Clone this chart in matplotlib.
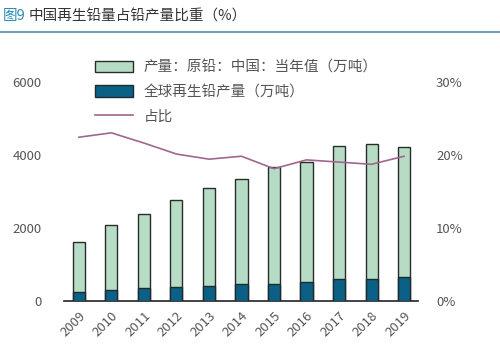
import matplotlib
matplotlib.use('Agg')
import matplotlib.pyplot as plt
from matplotlib.lines import Line2D

plt.rcParams['font.family'] = ['Noto Sans CJK SC', 'DejaVu Sans']

years = ['2009', '2010', '2011', '2012', '2013', '2014', '2015', '2016', '2017', '2018', '2019']
primary_lead = [1606, 2085, 2388, 2755, 3085, 3325, 3655, 3810, 4234, 4297, 4206]
recycled_lead = [240, 300, 350, 377, 405, 460, 468, 532, 598, 598, 653]
share = [22.4, 23.0, 21.6, 20.1, 19.4, 19.8, 18.1, 19.3, 19.0, 18.7, 19.8]

green = '#b6dcc6'
blue = '#0b6185'
purple = '#a0668f'
grey = '#555555'

fig = plt.figure(figsize=(5.0, 3.58), dpi=100)

# Title and rule under it
fig.text(0.006, 0.955, '图9', color='#2a8bb5', fontsize=10.5, va='center', ha='left')
fig.text(0.058, 0.955, '中国再生铅量占铅产量比重（%）', color='#333333', fontsize=10.5,
         va='center', ha='left')
fig.add_artist(Line2D([0, 1], [0.91, 0.91], color='#6e9fb3', linewidth=1.5))

ax = fig.add_axes([0.128, 0.159, 0.708, 0.613])
x = list(range(len(years)))
ax.bar(x, primary_lead, width=0.37, color=green, edgecolor='#2b2b2b', linewidth=1.0,
       label='产量：原铅：中国：当年值（万吨）', zorder=2)
ax.bar(x, recycled_lead, width=0.37, color=blue, edgecolor='#1e2a30', linewidth=1.0,
       label='全球再生铅产量（万吨）', zorder=3)
ax.set_ylim(0, 6000)
ax.set_yticks([0, 2000, 4000, 6000])
ax.set_xlim(-0.46, 10.43)
ax.set_xticks(x)
ax.set_xticklabels(years, rotation=45, ha='right', rotation_mode='anchor')
for s in ['top', 'right', 'left']:
    ax.spines[s].set_visible(False)
ax.spines['bottom'].set_color('#222222')
ax.spines['bottom'].set_linewidth(1.2)
ax.tick_params(axis='both', length=0, colors=grey, labelsize=9.5)
ax.tick_params(axis='y', pad=16)
ax.tick_params(axis='x', pad=6)

ax2 = ax.twinx()
ax2.plot(x, share, color=purple, linewidth=1.2, label='占比', zorder=4)
ax2.set_ylim(0, 30)
ax2.set_yticks([0, 10, 20, 30])
ax2.set_yticklabels(['0%', '10%', '20%', '30%'])
for s in ['top', 'right', 'left', 'bottom']:
    ax2.spines[s].set_visible(False)
ax2.tick_params(axis='y', length=0, colors=grey, labelsize=9.5, pad=13)

h1, l1 = ax.get_legend_handles_labels()
h2, l2 = ax2.get_legend_handles_labels()
leg = fig.legend(h1 + h2, l1 + l2, loc='upper left', bbox_to_anchor=(0.163, 0.868),
                 frameon=False, fontsize=10.5, handlelength=2.6, handleheight=0.8,
                 labelspacing=0.72, handletextpad=0.75)
for t in leg.get_texts():
    t.set_color(grey)

fig.savefig('out.png', dpi=100)
